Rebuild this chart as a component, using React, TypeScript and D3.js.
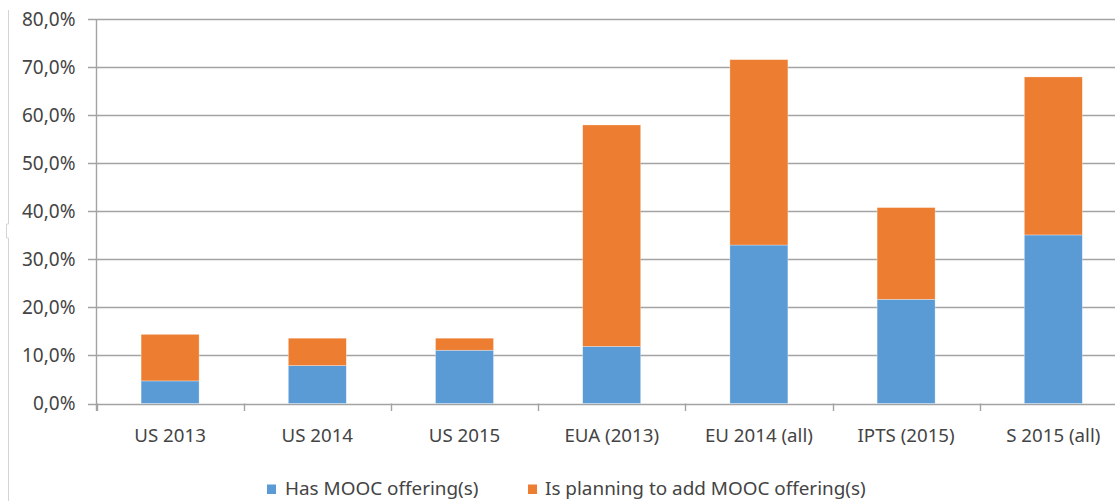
import React from "react";
import * as d3 from "d3";

const categories = ["US 2013", "US 2014", "US 2015", "EUA (2013)", "EU 2014 (all)", "IPTS (2015)", "S 2015 (all)"];
const hasMooc = [4.7, 7.9, 11.1, 11.9, 33.0, 21.7, 35.1];
const planning = [9.7, 5.7, 2.5, 46.1, 38.6, 19.1, 32.9];
const yTicks = [0, 10, 20, 30, 40, 50, 60, 70, 80];
const seriesNames = ["Has MOOC offering(s)", "Is planning to add MOOC offering(s)"];
const seriesColors = ["#5B9BD5", "#ED7D31"];

const W = 1115;
const H = 501;
const FONT = "'Noto Sans', 'Open Sans', sans-serif";

export default function App() {
  const axisX = 96.5;
  const step = 147.2;
  const x = d3
    .scaleBand<string>()
    .domain(categories)
    .range([axisX, axisX + step * categories.length])
    .paddingInner(0.606)
    .paddingOuter(0.303);
  const y = d3.scaleLinear().domain([0, 80]).range([403.5, 19.3]);

  const stack = d3
    .stack<any>()
    .keys(["has", "plan"])(categories.map((c, i) => ({ cat: c, has: hasMooc[i], plan: planning[i] })));

  const boundaries = d3.range(categories.length + 1).map((i) => axisX + i * step);
  const gridColor = "#a3a3a3";
  const textColor = "#444444";

  return (
    <div style={{ position: "absolute", left: 0, top: 0 }}>
      <svg width={W} height={H} style={{ display: "block", background: "#fff" }}>
        {/* left frame line */}
        <path d="M8.5,10 V224 H6.5 V238 H8.5 V501" fill="none" stroke="#d4d4d4" strokeWidth={1} />
        {/* gridlines & y ticks */}
        {yTicks.map((t) => (
          <g key={t}>
            <line x1={88} x2={W} y1={Math.round(y(t)) + 0.5} y2={Math.round(y(t)) + 0.5} stroke={gridColor} strokeWidth={1.4} />
            <text
              x={75.5}
              y={y(t) + 6.8}
              textAnchor="end"
              fontFamily={FONT}
              fontSize={19}
              fill={textColor}
            >
              {d3.format(".1f")(t).replace(".", ",") + "%"}
            </text>
          </g>
        ))}
        {/* y axis line */}
        <line x1={axisX} x2={axisX} y1={y(80)} y2={411} stroke={gridColor} strokeWidth={1.4} />
        {/* x ticks */}
        {boundaries.map((b, i) => (
          <line key={i} x1={Math.round(b) + 0.5} x2={Math.round(b) + 0.5} y1={403.5} y2={411} stroke={gridColor} strokeWidth={1.4} />
        ))}
        {/* bars */}
        {stack.map((layer, li) =>
          layer.map((d, i) => (
            <rect
              key={li + "-" + i}
              x={x(categories[i])}
              width={x.bandwidth()}
              y={y(d[1])}
              height={y(d[0]) - y(d[1])}
              fill={seriesColors[li]}
              stroke="#ffffff"
              strokeOpacity={0.5}
              strokeWidth={0.6}
            />
          ))
        )}
        {/* category labels */}
        {categories.map((c) => (
          <text
            key={c}
            x={(x(c) as number) + x.bandwidth() / 2}
            y={441.5}
            textAnchor="middle"
            fontFamily={FONT}
            fontSize={18.7}
            fill={textColor}
          >
            {c}
          </text>
        ))}
        {/* legend */}
        {[
          { x0: 267, tx: 285 },
          { x0: 528, tx: 545 },
        ].map((p, i) => (
          <g key={i}>
            <rect x={p.x0} y={484.5} width={9} height={9.5} fill={seriesColors[i]} />
            <text x={p.tx} y={495} fontFamily={FONT} fontSize={18.9} fill={textColor}>
              {seriesNames[i]}
            </text>
          </g>
        ))}
      </svg>
    </div>
  );
}
